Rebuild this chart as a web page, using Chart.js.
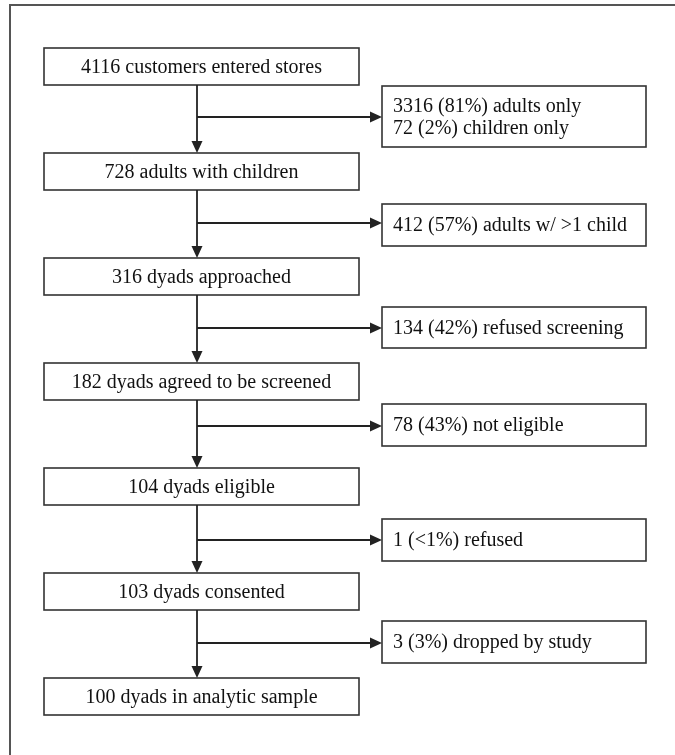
<!DOCTYPE html>
<html>
<head>
<meta charset="utf-8">
<script src="https://cdn.jsdelivr.net/npm/chart.js@4"></script>
<style>
  html, body { margin: 0; padding: 0; background: #fff; }
  #wrap { width: 675px; height: 755px; position: relative; }
</style>
</head>
<body>
<div id="wrap"><canvas id="flow"></canvas></div>
<script>
// Étapes principales du diagramme (de haut en bas)
const mainSteps = [
  "4116 customers entered stores",
  "728 adults with children",
  "316 dyads approached",
  "182 dyads agreed to be screened",
  "104 dyads eligible",
  "103 dyads consented",
  "100 dyads in analytic sample"
];

// Exclusions à droite (une entrée par flèche, lignes séparées)
const exclusions = [
  ["3316 (81%) adults only", "72 (2%) children only"],
  ["412 (57%) adults w/ >1 child"],
  ["134 (42%) refused screening"],
  ["78 (43%) not eligible"],
  ["1 (<1%) refused"],
  ["3 (3%) dropped by study"]
];

// Mise en page (unités des axes = pixels de la figure)
const layout = {
  mainLeft: 44, mainRight: 359,
  mainTops: [48, 153, 258, 363, 468, 573, 678],
  mainHeight: 37,
  spine: 197,
  sideLeft: 382, sideRight: 646,
  sideBoxes: [[86, 147], [204, 246], [307, 348], [404, 446], [519, 561], [621, 663]],
  arrowYs: [117, 223, 328, 426, 540, 643],
  font: '20px "Liberation Serif", "Times New Roman", serif'
};

// Dessine le diagramme à partir des échelles du graphique
const flowPlugin = {
  id: 'flow',
  afterDraw(chart) {
    const ctx = chart.ctx;
    const xs = chart.scales.x;
    const ys = chart.scales.y;
    const X = v => xs.getPixelForValue(v);
    const Y = v => ys.getPixelForValue(v);

    ctx.save();

    // Cadre extérieur (haut et gauche seulement)
    ctx.strokeStyle = '#555';
    ctx.lineWidth = 2;
    ctx.beginPath();
    ctx.moveTo(X(10), Y(755));
    ctx.lineTo(X(10), Y(5));
    ctx.lineTo(X(675), Y(5));
    ctx.stroke();

    ctx.font = layout.font;
    ctx.fillStyle = '#111';
    ctx.textBaseline = 'middle';

    // Boîtes principales
    ctx.strokeStyle = '#333';
    ctx.lineWidth = 1.6;
    mainSteps.forEach((label, i) => {
      const top = layout.mainTops[i];
      const x0 = X(layout.mainLeft), x1 = X(layout.mainRight);
      const y0 = Y(top), y1 = Y(top + layout.mainHeight);
      ctx.strokeRect(x0, y0, x1 - x0, y1 - y0);
      ctx.textAlign = 'center';
      ctx.fillText(label, (x0 + x1) / 2, (y0 + y1) / 2 + 1);
    });

    // Boîtes d'exclusion
    exclusions.forEach((lines, i) => {
      const [top, bottom] = layout.sideBoxes[i];
      const x0 = X(layout.sideLeft), x1 = X(layout.sideRight);
      const y0 = Y(top), y1 = Y(bottom);
      ctx.strokeRect(x0, y0, x1 - x0, y1 - y0);
      ctx.textAlign = 'left';
      const lh = 22;
      const mid = (y0 + y1) / 2;
      lines.forEach((t, j) => {
        const y = mid + (j - (lines.length - 1) / 2) * lh + 1;
        ctx.fillText(t, x0 + 11, y);
      });
    });

    // Flèches
    ctx.strokeStyle = '#222';
    ctx.fillStyle = '#222';
    ctx.lineWidth = 1.8;
    const head = (tx, ty, dir) => {
      ctx.beginPath();
      if (dir === 'down') {
        ctx.moveTo(tx, ty);
        ctx.lineTo(tx - 5.5, ty - 12);
        ctx.lineTo(tx + 5.5, ty - 12);
      } else {
        ctx.moveTo(tx, ty);
        ctx.lineTo(tx - 12, ty - 5.5);
        ctx.lineTo(tx - 12, ty + 5.5);
      }
      ctx.closePath();
      ctx.fill();
    };
    for (let i = 0; i < mainSteps.length - 1; i++) {
      const sx = X(layout.spine);
      const yStart = Y(layout.mainTops[i] + layout.mainHeight);
      const yEnd = Y(layout.mainTops[i + 1]);
      ctx.beginPath();
      ctx.moveTo(sx, yStart);
      ctx.lineTo(sx, yEnd - 10);
      ctx.stroke();
      head(sx, yEnd, 'down');

      const ay = Y(layout.arrowYs[i]);
      const ax = X(layout.sideLeft);
      ctx.beginPath();
      ctx.moveTo(sx, ay);
      ctx.lineTo(ax - 10, ay);
      ctx.stroke();
      head(ax, ay, 'right');
    }

    ctx.restore();
  }
};

new Chart(document.getElementById('flow'), {
  type: 'scatter',
  data: { datasets: [{ data: [], pointRadius: 0 }] },
  options: {
    responsive: true,
    maintainAspectRatio: false,
    animation: false,
    layout: { padding: 0 },
    plugins: { legend: { display: false }, tooltip: { enabled: false } },
    scales: {
      x: { type: 'linear', min: 0, max: 675, display: false },
      y: { type: 'linear', min: 0, max: 755, reverse: true, display: false }
    }
  },
  plugins: [flowPlugin]
});
</script>
</body>
</html>
